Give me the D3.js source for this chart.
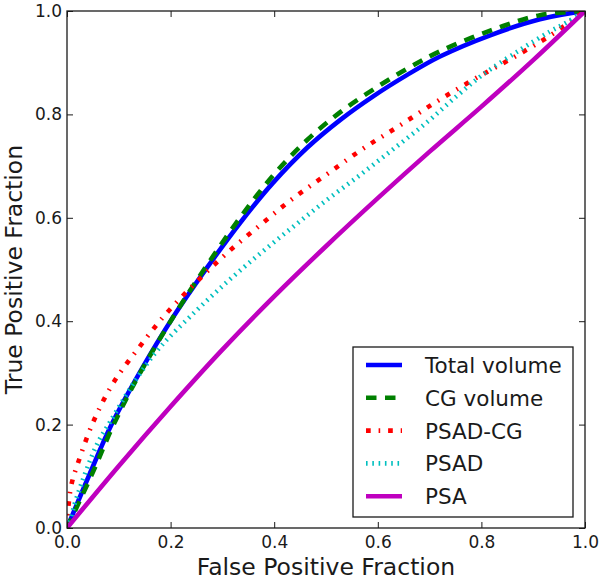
<!DOCTYPE html>
<html>
<head>
<meta charset="utf-8">
<script src="https://cdn.jsdelivr.net/npm/d3@7"></script>
<style>
  html, body { margin: 0; padding: 0; background: #fff; }
  svg { display: block; font-family: "DejaVu Sans", sans-serif; }
</style>
</head>
<body>
<svg id="chart" width="600" height="581"></svg>
<script>
// ---- Data ----
const seriesNames = ["Total volume", "CG volume", "PSAD-CG", "PSAD", "PSA"];
const seriesColors = ["#0000ff", "#008000", "#ff0000", "#00bfbf", "#bf00bf"];
const seriesDashes = [null, "10.5,8.5", "4.7,7.9,1.6,7.9", "1.6,4.7", null];

const totalVolume = [
  [0, 0], [0.044, 0.105], [0.086, 0.2], [0.14, 0.3], [0.205, 0.408],
  [0.27, 0.503], [0.334, 0.59], [0.398, 0.668], [0.463, 0.735], [0.527, 0.789],
  [0.591, 0.835], [0.656, 0.876], [0.72, 0.912], [0.817, 0.953], [0.913, 0.984], [1, 1]
];
const cgVolume = [
  [0, 0], [0.05, 0.108], [0.09, 0.2], [0.14, 0.298], [0.205, 0.408],
  [0.27, 0.508], [0.334, 0.6], [0.398, 0.682], [0.463, 0.75], [0.527, 0.804],
  [0.591, 0.848], [0.656, 0.888], [0.72, 0.922], [0.817, 0.962], [0.913, 0.992], [1, 1]
];
const psadCg = [
  [0, 0], [0.003, 0.045], [0.009, 0.086], [0.022, 0.128], [0.051, 0.206],
  [0.089, 0.28], [0.138, 0.348], [0.19, 0.413], [0.248, 0.474], [0.308, 0.531],
  [0.373, 0.586], [0.437, 0.638], [0.504, 0.686], [0.572, 0.734], [0.643, 0.779],
  [0.714, 0.825], [0.784, 0.867], [0.858, 0.908], [0.932, 0.952], [1, 1]
];
const psad = [
  [0, 0], [0.006, 0.015], [0.019, 0.06], [0.057, 0.16], [0.083, 0.205],
  [0.135, 0.29], [0.18, 0.35], [0.244, 0.415], [0.308, 0.475], [0.373, 0.531],
  [0.437, 0.583], [0.501, 0.634], [0.566, 0.683], [0.63, 0.733], [0.694, 0.784],
  [0.752, 0.835], [0.803, 0.877], [0.875, 0.925], [0.932, 0.96], [0.965, 0.978], [1, 1]
];
const psa = [
  [0, 0], [0.1, 0.12], [0.2, 0.235], [0.3, 0.345], [0.4, 0.448],
  [0.5, 0.545], [0.6, 0.638], [0.7, 0.728], [0.8, 0.815], [0.9, 0.905], [1, 1]
];
const seriesData = [totalVolume, cgVolume, psadCg, psad, psa];

const xTicks = [0.0, 0.2, 0.4, 0.6, 0.8, 1.0];
const yTicks = [0.0, 0.2, 0.4, 0.6, 0.8, 1.0];
const xLabel = "False Positive Fraction";
const yLabel = "True Positive Fraction";

// ---- Layout ----
const svg = d3.select("#chart");
const pLeft = 67, pRight = 585, pTop = 11, pBottom = 528;
const x = d3.scaleLinear().domain([0, 1]).range([pLeft, pRight]);
const y = d3.scaleLinear().domain([0, 1]).range([pBottom, pTop]);
const textColor = "#1a1a1a";
const fmt = d3.format(".1f");

svg.append("defs").append("clipPath").attr("id", "plotclip")
  .append("rect").attr("x", pLeft).attr("y", pTop)
  .attr("width", pRight - pLeft).attr("height", pBottom - pTop);

// Lines
const line = d3.line().x(d => x(d[0])).y(d => y(d[1])).curve(d3.curveCatmullRom.alpha(0.5));
const lines = svg.append("g").attr("clip-path", "url(#plotclip)");
seriesData.forEach((data, i) => {
  lines.append("path")
    .attr("d", line(data))
    .attr("fill", "none")
    .attr("stroke", seriesColors[i])
    .attr("stroke-width", 4.6)
    .attr("stroke-linecap", "butt")
    .attr("stroke-linejoin", "round")
    .attr("stroke-dasharray", seriesDashes[i]);
});

// Axes (inward ticks on all sides)
function styleAxis(g) {
  g.select(".domain").remove();
  g.selectAll(".tick line").attr("stroke", textColor).attr("stroke-width", 1);
  g.selectAll(".tick text").attr("fill", textColor).attr("font-size", 17)
    .attr("font-family", "DejaVu Sans");
}
svg.append("g").attr("transform", `translate(0,${pBottom})`)
  .call(d3.axisBottom(x).tickValues(xTicks).tickFormat(fmt).tickSize(-6).tickPadding(8))
  .call(styleAxis);
svg.append("g").attr("transform", `translate(${pLeft},0)`)
  .call(d3.axisLeft(y).tickValues(yTicks).tickFormat(fmt).tickSize(-6).tickPadding(5))
  .call(styleAxis);
svg.append("g").attr("transform", `translate(0,${pTop})`)
  .call(d3.axisTop(x).tickValues(xTicks).tickFormat("").tickSize(-6))
  .call(styleAxis);
svg.append("g").attr("transform", `translate(${pRight},0)`)
  .call(d3.axisRight(y).tickValues(yTicks).tickFormat("").tickSize(-6))
  .call(styleAxis);

// Frame
svg.append("rect")
  .attr("x", pLeft).attr("y", pTop)
  .attr("width", pRight - pLeft).attr("height", pBottom - pTop)
  .attr("fill", "none").attr("stroke", textColor).attr("stroke-width", 1.3);

// Axis labels
svg.append("text")
  .attr("x", (pLeft + pRight) / 2).attr("y", 575)
  .attr("text-anchor", "middle").attr("font-size", 23.5).attr("fill", textColor)
  .text(xLabel);
svg.append("text")
  .attr("transform", `translate(22,${(pTop + pBottom) / 2}) rotate(-90)`)
  .attr("text-anchor", "middle").attr("font-size", 23.5).attr("fill", textColor)
  .text(yLabel);

// Legend
const lg = svg.append("g");
lg.append("rect")
  .attr("x", 353).attr("y", 347).attr("width", 220).attr("height", 170)
  .attr("fill", "#fff").attr("stroke", textColor).attr("stroke-width", 1.3);
seriesNames.forEach((name, i) => {
  const cy = 365 + i * 32.8;
  lg.append("line")
    .attr("x1", 366).attr("x2", 402).attr("y1", cy).attr("y2", cy)
    .attr("stroke", seriesColors[i]).attr("stroke-width", 4.6)
    .attr("stroke-dasharray", seriesDashes[i]);
  lg.append("text")
    .attr("x", 425).attr("y", cy + 8)
    .attr("font-size", 21.5).attr("fill", textColor)
    .text(name);
});
</script>
</body>
</html>
